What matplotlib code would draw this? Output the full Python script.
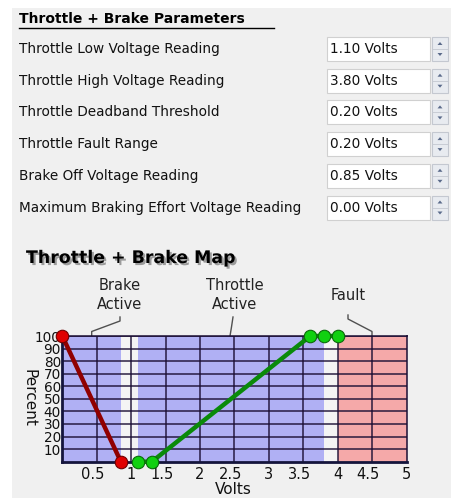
import matplotlib
matplotlib.use("Agg")
import matplotlib.pyplot as plt
import matplotlib.patheffects as pe
from matplotlib.patches import Rectangle, Polygon
from matplotlib.transforms import ScaledTranslation

# parameter panel
param_labels = [
    "Throttle Low Voltage Reading",
    "Throttle High Voltage Reading",
    "Throttle Deadband Threshold",
    "Throttle Fault Range",
    "Brake Off Voltage Reading",
    "Maximum Braking Effort Voltage Reading",
]
param_values = [1.10, 3.80, 0.20, 0.20, 0.85, 0.00]

# map curves
brake_volts = [0.00, 0.85]
brake_pct = [100, 0]
throttle_volts = [1.10, 1.30, 3.60, 3.80, 4.00]
throttle_pct = [0, 0, 100, 100, 100]

# background zones (start, end, kind)
zone_starts = [0.00, 0.85, 1.10, 3.80, 4.00]
zone_ends = [0.85, 1.10, 3.80, 4.00, 5.00]
zone_kinds = ["active", "gap", "active", "gap", "fault"]
zone_colors = {"active": "#b0b0f4", "gap": "#f4f4f4", "fault": "#f5a9a9"}

x_ticks = [0.5, 1, 1.5, 2, 2.5, 3, 3.5, 4, 4.5, 5]
y_ticks = [10, 20, 30, 40, 50, 60, 70, 80, 90, 100]

W, H = 452, 498
fig = plt.figure(figsize=(W / 100, H / 100), dpi=100)
fig.patch.set_facecolor("white")

bg = fig.add_axes([0, 0, 1, 1], zorder=0)
bg.set_xlim(0, W)
bg.set_ylim(H, 0)
bg.axis("off")
bg.add_patch(Rectangle((12, 8), W - 12, H - 8, facecolor="#f0f0f0", edgecolor="none"))

# header
bg.text(19, 19, "Throttle + Brake Parameters", fontsize=10, fontweight="bold",
        va="center", ha="left", color="black")
bg.plot([19, 274], [27.5, 27.5], color="black", lw=1)

row0, step = 49, 31.7
for i, (lab, val) in enumerate(zip(param_labels, param_values)):
    y = row0 + i * step
    bg.text(19, y, lab, fontsize=9.8, va="center", ha="left", color="#111111")
    bg.add_patch(Rectangle((327, y - 12), 103, 24, facecolor="white",
                           edgecolor="#d0d0d0", lw=0.8))
    bg.text(330, y, f"{val:.2f} Volts", fontsize=9.8, va="center", ha="left",
            color="#111111")
    # spinner
    bg.add_patch(Rectangle((432, y - 12), 16, 24, facecolor="#e8ebf0",
                           edgecolor="#c4c8d0", lw=0.8))
    bg.plot([432, 448], [y, y], color="#c4c8d0", lw=0.6)
    bg.add_patch(Polygon([[437.5, y - 4], [442.5, y - 4], [440, y - 7]],
                         closed=True, facecolor="#5a6a8a", edgecolor="none"))
    bg.add_patch(Polygon([[437.5, y + 4], [442.5, y + 4], [440, y + 7]],
                         closed=True, facecolor="#5a6a8a", edgecolor="none"))

# chart title
bg.text(26, 258, "Throttle + Brake Map", fontsize=12.5, fontweight="bold",
        va="center", ha="left", color="black",
        path_effects=[pe.withSimplePatchShadow(offset=(1.5, -1.5),
                                               shadow_rgbFace="#777777",
                                               alpha=0.7)])

# chart axes geometry (pixels)
ax_l, ax_r, ax_t, ax_b = 62.3, 406.7, 336, 461.7
ax = fig.add_axes([ax_l / W, (H - ax_b) / H, (ax_r - ax_l) / W, (ax_b - ax_t) / H],
                  zorder=2)
ax.set_xlim(0, 5)
ax.set_ylim(0, 100)

for s, e, k in zip(zone_starts, zone_ends, zone_kinds):
    ax.axvspan(s, e, color=zone_colors[k], lw=0, zorder=0)

grid_c = (0.1, 0.05, 0.2, 0.78)
for xv in x_ticks[:-1]:
    ax.axvline(xv, color=grid_c, lw=1.3, zorder=1)
for yv in y_ticks:
    ax.axhline(yv, color=grid_c, lw=1.3, zorder=1)
for side in ["left", "bottom", "right", "top"]:
    ax.spines[side].set_color(grid_c)
    ax.spines[side].set_linewidth(1.4)
ax.spines["left"].set_linewidth(2)
ax.spines["bottom"].set_linewidth(2)
ax.spines["left"].set_color("#14143c")
ax.spines["bottom"].set_color("#14143c")

ax.plot(brake_volts, brake_pct, color="#900000", lw=3.2, zorder=3,
        marker="o", ms=9, mfc="#e00000", mec="#700000", mew=0.8, clip_on=False)
ax.plot(throttle_volts, throttle_pct, color="#0a8a0a", lw=3.2, zorder=3,
        marker="o", ms=9, mfc="#10d010", mec="#0a6a0a", mew=0.8, clip_on=False)

ax.set_xticks(x_ticks)
ax.set_xticklabels([f"{t:g}" for t in x_ticks])
ax.set_yticks(y_ticks)
ax.set_yticklabels([str(t) for t in y_ticks])
ax.tick_params(axis="x", length=0, labelsize=10.5, colors="#111111", pad=4)
ax.tick_params(axis="y", length=0, labelsize=9.8, colors="#111111", pad=1)
for lbl in ax.get_xticklabels():
    if "." in lbl.get_text():
        lbl.set_transform(lbl.get_transform() + ScaledTranslation(-4 / 100, 0, fig.dpi_scale_trans))

bg.text(29, 398, "Percent", fontsize=11, rotation=270, va="center", ha="center",
        color="#111111")
bg.text(233, 489, "Volts", fontsize=11, va="center", ha="center", color="#111111")

# zone annotations
ann_c = "#505050"
bg.text(120, 295, "Brake\nActive", fontsize=10.5, ha="center", va="center",
        linespacing=1.3, color="#222222")
bg.plot([91.7, 91.7, 120, 120], [336, 331.5, 321, 317], color=ann_c, lw=1)
bg.text(235, 295, "Throttle\nActive", fontsize=10.5, ha="center", va="center",
        linespacing=1.3, color="#222222")
bg.plot([230, 231.5, 233], [336, 327, 317], color=ann_c, lw=1)
bg.text(348, 295, "Fault", fontsize=10.5, ha="center", va="center", color="#222222")
bg.plot([348, 348, 372, 372], [315, 319, 331.5, 336], color=ann_c, lw=1)

fig.savefig("out.png", dpi=100)
